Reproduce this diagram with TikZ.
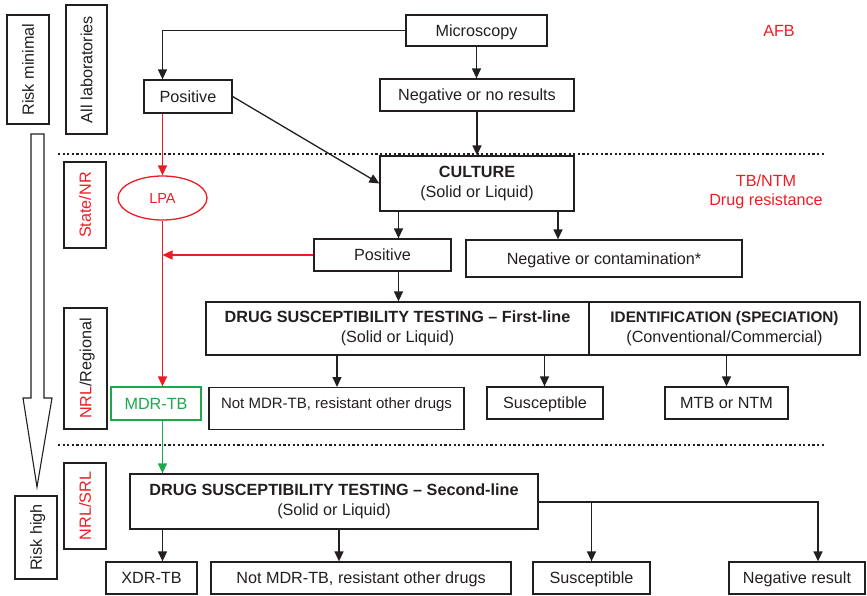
\documentclass[tikz,border=0pt]{standalone}
\usepackage{fontspec}
\setmainfont{Liberation Sans}
\usetikzlibrary{arrows.meta,shapes.geometric,calc}
\definecolor{ink}{HTML}{231F20}
\definecolor{alert}{RGB}{237,28,36}
\definecolor{mdrgreen}{RGB}{30,168,75}

\begin{document}
\begin{tikzpicture}[x=1pt,y=-1pt,
  font=\fontsize{16.2}{19.5}\selectfont,
  box/.style={draw=ink, line width=1.3pt, text=ink, inner sep=0pt, align=center},
  oneline/.style={text height=11.6pt, text depth=0pt},
  side/.style={box, oneline, rotate=90},
  flow/.style={draw=ink, line width=1.3pt, -{Triangle[length=10pt,width=9pt]}},
  redflow/.style={flow, draw=alert},
  greenflow/.style={flow, draw=mdrgreen},
  tierline/.style={draw=ink, line width=2.2pt, dash pattern=on 2.2pt off 2.4pt},
]
\useasboundingbox (0,0) rectangle (867,595);

% tier separators
\draw[tierline] (58,154) -- (826,154);
\draw[tierline] (58,445) -- (826,445);

% risk scale arrow
\draw[draw=ink, line width=1.1pt, fill=white]
  (31,134) -- (44,134) -- (44,398) -- (52,398) -- (37,487) -- (23,398) -- (31,398) -- cycle;

% side labels
\node[side, minimum width=109, minimum height=42] (riskmin) at (28,69.5) {Risk minimal};
\node[side, minimum width=129, minimum height=41] (alllab) at (86.5,69.5) {All laboratories};
\node[side, minimum width=86, minimum height=42, text=alert] (state) at (85,205) {State/NR};
\node[side, minimum width=121, minimum height=43] (regional) at (85.5,368.5) {\textcolor{alert}{NRL}/Regional};
\node[side, minimum width=86, minimum height=42, text=alert] (srl) at (85,506) {NRL/SRL};
\node[side, minimum width=83, minimum height=42] (riskhigh) at (36,537.5) {Risk high};

% tier captions
\node[text=alert, oneline] (afb) at (779,31) {AFB};
\node[text=alert, align=center, font=\fontsize{16.2}{18.5}\selectfont] (tbntm) at (766,192) {TB/NTM\\Drug resistance};

% flow boxes
\node[box, oneline, minimum width=141, minimum height=31] (micro) at (476.5,30.5) {Microscopy};
\node[box, oneline, minimum width=194, minimum height=32] (neg1) at (477,95) {Negative or no results};
\node[box, oneline, minimum width=88, minimum height=33] (pos1) at (188,96.5) {Positive};
\node[box, minimum width=194, minimum height=55] (culture) at (477,183.5) {\textbf{CULTURE}\\(Solid or Liquid)};
\node[box, oneline, minimum width=137, minimum height=32] (pos2) at (382.5,255) {Positive};
\node[box, oneline, minimum width=276, minimum height=37] (negc) at (604,258.5) {Negative or contamination*};
\node[box, minimum width=383, minimum height=53] (dst1) at (397.5,328.5)
  {\textbf{DRUG SUSCEPTIBILITY TESTING – First-line}\\(Solid or Liquid)};
\node[box, minimum width=271, minimum height=53] (ident) at (724.5,328.5)
  {{\fontsize{15.3}{19.5}\selectfont\textbf{IDENTIFICATION (SPECIATION)}}\\(Conventional/Commercial)};
\node[box, font=\fontsize{15}{18}\selectfont, minimum width=255, text height=11pt, text depth=12pt,
  inner ysep=9.5pt, anchor=north] (notmdr1) at (336.5,387) {Not MDR-TB, resistant other drugs};
\node[box, oneline, minimum width=116, minimum height=32] (susc1) at (545,403) {Susceptible};
\node[box, oneline, minimum width=123, minimum height=32] (mtb) at (726.5,403) {MTB or NTM};
\node[draw=alert, line width=1.3pt, ellipse, minimum width=89, minimum height=44, inner sep=0pt,
  text=alert, text height=10.4pt, text depth=0pt, font=\fontsize{14.5}{17}\selectfont] (lpa) at (162.5,198) {LPA};
\node[box, oneline, draw=mdrgreen, text=mdrgreen, minimum width=90, minimum height=33] (mdr) at (156,403.5) {MDR-TB};
\node[box, minimum width=408, minimum height=55] (dst2) at (334,501.5)
  {\textbf{DRUG SUSCEPTIBILITY TESTING – Second-line}\\(Solid or Liquid)};
\node[box, oneline, minimum width=91, minimum height=32] (xdr) at (151.5,578) {XDR-TB};
\node[box, oneline, minimum width=300, minimum height=32] (notmdr2) at (361,578) {Not MDR-TB, resistant other drugs};
\node[box, oneline, minimum width=117, minimum height=32] (susc2) at (591.5,578) {Susceptible};
\node[box, oneline, minimum width=136, minimum height=32] (negres) at (797,578) {Negative result};

% connector columns and rows
\coordinate (colA) at (162.5,0);
\coordinate (colB) at (398.5,0);
\coordinate (colC) at (558,0);
\coordinate (colD) at (337,0);
\coordinate (colE) at (544.5,0);
\coordinate (colF) at (726.5,0);
\coordinate (colG) at (339,0);
\coordinate (colH) at (818,0);
\coordinate (rowA) at (0,502);

% connectors
\draw[flow] (micro.west) -| (pos1.north -| colA);
\draw[flow] (micro.south) -- (micro.south |- neg1.north);
\draw[flow] (neg1.south) -- (neg1.south |- culture.north);
\draw[flow] (pos1.east) -- (culture.west);
\draw[flow] (culture.south -| colB) -- (pos2.north -| colB);
\draw[flow] (culture.south -| colC) -- (negc.north -| colC);
\draw[flow] (pos2.south -| colB) -- (dst1.north -| colB);
\draw[redflow] (pos2.west) -- (pos2.west -| colA);
\draw[redflow] (pos1.south -| colA) -- (lpa.north);
\draw[redflow] (lpa.south) -- (mdr.north -| colA);
\draw[flow] (dst1.south -| colD) -- (notmdr1.north -| colD);
\draw[flow] (dst1.south -| colE) -- (susc1.north -| colE);
\draw[flow] (ident.south -| colF) -- (mtb.north);
\draw[greenflow] (mdr.south -| colA) -- (dst2.north -| colA);
\draw[flow] (dst2.south -| colA) -- (xdr.north -| colA);
\draw[flow] (dst2.south -| colG) -- (notmdr2.north -| colG);
\draw[flow] (dst2.east |- rowA) -| (negres.north -| colH);
\draw[flow] (rowA -| susc2.north) -- (susc2.north);
\end{tikzpicture}
\end{document}
